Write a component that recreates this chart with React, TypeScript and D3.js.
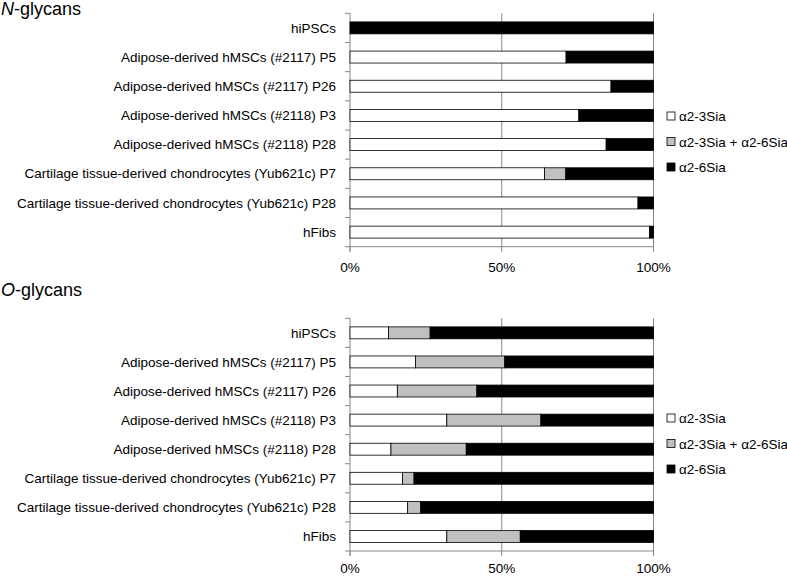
import React from "react";
import * as d3 from "d3";

const categories = [
  "hiPSCs",
  "Adipose-derived hMSCs (#2117) P5",
  "Adipose-derived hMSCs (#2117) P26",
  "Adipose-derived hMSCs (#2118) P3",
  "Adipose-derived hMSCs (#2118) P28",
  "Cartilage tissue-derived chondrocytes (Yub621c) P7",
  "Cartilage tissue-derived chondrocytes (Yub621c) P28",
  "hFibs",
];

const seriesNames = ["α2-3Sia", "α2-3Sia + α2-6Sia", "α2-6Sia"];
const seriesColors = ["#ffffff", "#c0c0c0", "#000000"];

// N-glycans (percent)
const nA23 = [0, 71.2, 86, 75.4, 84.4, 64.1, 94.9, 98.7];
const nBoth = [0, 0, 0, 0, 0, 7.0, 0, 0];
const nA26 = [100, 28.8, 14, 24.6, 15.6, 28.9, 5.1, 1.3];

// O-glycans (percent)
const oA23 = [12.7, 21.6, 15.6, 31.9, 13.5, 17.3, 19.0, 31.9];
const oBoth = [13.7, 29.4, 26.2, 31.0, 24.8, 3.8, 4.3, 24.2];
const oA26 = [73.6, 49.0, 58.2, 37.1, 61.7, 78.9, 76.7, 43.9];

const xTicks = [0, 50, 100];
const xTickLabels = ["0%", "50%", "100%"];

const FONT = "Arial, 'Liberation Sans', Helvetica, sans-serif";

type PanelProps = {
  top: number;
  bottom: number;
  a23: number[];
  both: number[];
  a26: number[];
  legendY: number;
  tickLabelOffset: number;
};

function Panel({ top, bottom, a23, both, a26, legendY, tickLabelOffset }: PanelProps) {
  const x = d3.scaleLinear().domain([0, 100]).range([350, 653.5]);
  const y = d3.scaleBand<string>().domain(categories).range([top, bottom]).paddingInner(0.59).paddingOuter(0.295);
  const yEdges = d3.scaleLinear().domain([0, categories.length]).range([top, bottom]);
  const stackData = categories.map((c, i) => ({ cat: c, s0: a23[i], s1: both[i], s2: a26[i] }));
  const stack = d3.stack<any>().keys(["s0", "s1", "s2"])(stackData);
  const axisColor = "#878787";
  return (
    <g>
      {xTicks.slice(1).map((t) => (
        <line key={t} x1={x(t)} x2={x(t)} y1={top} y2={bottom} stroke={axisColor} strokeWidth={1} />
      ))}
      <line x1={x(0)} x2={x(0)} y1={top} y2={bottom + 5} stroke={axisColor} strokeWidth={1} />
      {d3.range(categories.length + 1).map((i) => (
        <line key={i} x1={x(0) - 5} x2={x(0)} y1={yEdges(i)} y2={yEdges(i)} stroke={axisColor} strokeWidth={1} />
      ))}
      <line x1={x(0)} x2={x(100)} y1={bottom} y2={bottom} stroke={axisColor} strokeWidth={1} />
      {xTicks.map((t, i) => (
        <g key={t}>
          <line x1={x(t)} x2={x(t)} y1={bottom} y2={bottom + 5} stroke={axisColor} strokeWidth={1} />
          <text x={x(t)} y={bottom + tickLabelOffset} textAnchor="middle" fontSize={13.5} fontFamily={FONT} fill="#000">
            {xTickLabels[i]}
          </text>
        </g>
      ))}
      {stack.map((layer, li) =>
        layer.map((d, di) => {
          const w = x(d[1]) - x(d[0]);
          if (w <= 0) return null;
          return (
            <rect
              key={li + "-" + di}
              x={x(d[0])}
              y={y(categories[di])!}
              width={w}
              height={y.bandwidth()}
              fill={seriesColors[li]}
              stroke="#000"
              strokeWidth={0.8}
            />
          );
        })
      )}
      {categories.map((c) => (
        <text
          key={c}
          x={336}
          y={y(c)! + y.bandwidth() / 2 + 4.7}
          textAnchor="end"
          fontSize={13.5}
          fontFamily={FONT}
          fill="#000"
        >
          {c}
        </text>
      ))}
      {seriesNames.map((s, i) => (
        <g key={s}>
          <rect x={667} y={legendY + i * 25.5 - 4} width={8} height={8} fill={seriesColors[i]} stroke="#000" strokeWidth={0.8} />
          <text x={679} y={legendY + i * 25.5 + 5} fontSize={13.5} fontFamily={FONT} fill="#000">
            {s}
          </text>
        </g>
      ))}
    </g>
  );
}

export default function App() {
  return (
    <svg width={787} height={576} style={{ position: "absolute", left: 0, top: 0, background: "#fff" }}>
      <rect x={0} y={0} width={787} height={576} fill="#fff" />
      <text x={1} y={15} fontSize={18} fontFamily={FONT} fill="#000">
        <tspan fontStyle="italic">N</tspan>-glycans
      </text>
      <Panel top={13.3} bottom={246.7} a23={nA23} both={nBoth} a26={nA26} legendY={116} tickLabelOffset={25} />
      <text x={1} y={296} fontSize={18} fontFamily={FONT} fill="#000">
        <tspan fontStyle="italic">O</tspan>-glycans
      </text>
      <Panel top={318.3} bottom={551} a23={oA23} both={oBoth} a26={oA26} legendY={418} tickLabelOffset={21.5} />
    </svg>
  );
}
